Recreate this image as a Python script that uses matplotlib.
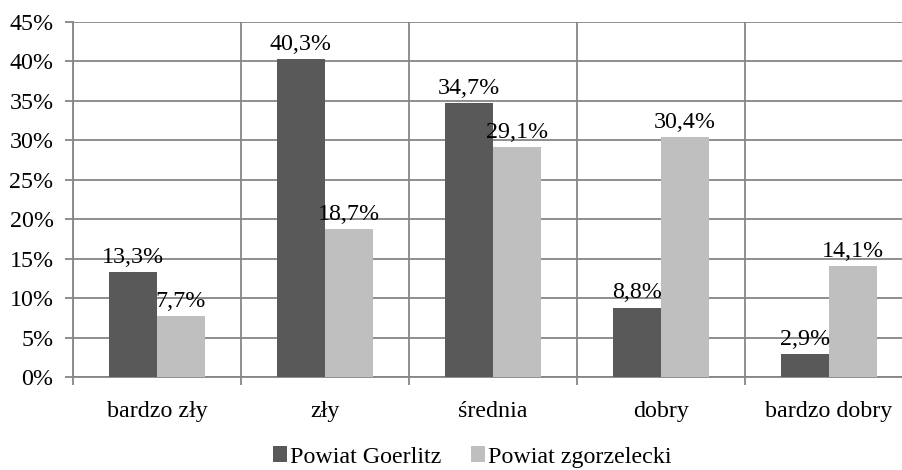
import matplotlib
matplotlib.use("Agg")
import matplotlib.pyplot as plt
import numpy as np
from matplotlib.ticker import MultipleLocator, FuncFormatter

categories = ["bardzo zły", "zły", "średnia", "dobry", "bardzo dobry"]
goerlitz = [13.3, 40.3, 34.7, 8.8, 2.9]
zgorzelecki = [7.7, 18.7, 29.1, 30.4, 14.1]
series_names = ["Powiat Goerlitz", "Powiat zgorzelecki"]

plt.rcParams['font.family'] = ['Liberation Serif', 'DejaVu Serif']
FS = 17.3
dark = "#595959"
light = "#BFBFBF"
gridc = "#868686"

fig = plt.figure(figsize=(9.03, 4.70), dpi=100)
ax = fig.add_axes([73/903, 93/470, 840/903, 355/470])

x = np.arange(len(categories))
w = 0.286
b1 = ax.bar(x - w/2, goerlitz, w, color=dark, zorder=3, label=series_names[0])
b2 = ax.bar(x + w/2, zgorzelecki, w, color=light, zorder=3, label=series_names[1])

for bars, vals in ((b1, goerlitz), (b2, zgorzelecki)):
    for r, v in zip(bars, vals):
        ax.annotate(f"{v:.1f}%".replace(".", ","), (r.get_x() + r.get_width()/2, v),
                    xytext=(0, 3), textcoords="offset points", ha="center", va="bottom",
                    fontsize=FS, zorder=4)

ax.set_xlim(-0.5, len(categories) - 0.5)
ax.set_ylim(0, 45)
ax.yaxis.set_major_locator(MultipleLocator(5))
ax.yaxis.set_major_formatter(FuncFormatter(lambda v, p: f"{int(round(v))}%"))
ax.set_xticks(np.arange(-0.5, len(categories)), minor=False)
ax.set_xticklabels([])
ax.set_xticks(x, minor=True)
ax.set_xticklabels(categories, minor=True, fontsize=FS)
ax.tick_params(axis="x", which="minor", length=0, pad=17)
ax.tick_params(axis="x", which="major", length=6, color=gridc, width=1.3, direction="out")
ax.tick_params(axis="y", length=6, color=gridc, width=1.3, labelsize=FS, pad=8)

ax.grid(True, axis="both", which="major", color=gridc, linewidth=1.3, zorder=0)
for s in ["top", "right"]:
    ax.spines[s].set_visible(False)
for s in ["left", "bottom"]:
    ax.spines[s].set_color(gridc)
    ax.spines[s].set_linewidth(1.3)

leg = fig.legend(handles=[b1, b2], labels=series_names, loc="center", bbox_to_anchor=(472/903, 13/470),
                 ncol=2, frameon=False, fontsize=FS, handlelength=0.6, handleheight=0.6,
                 handletextpad=0.1, columnspacing=1.25)

fig.savefig("out.png", dpi=100)
